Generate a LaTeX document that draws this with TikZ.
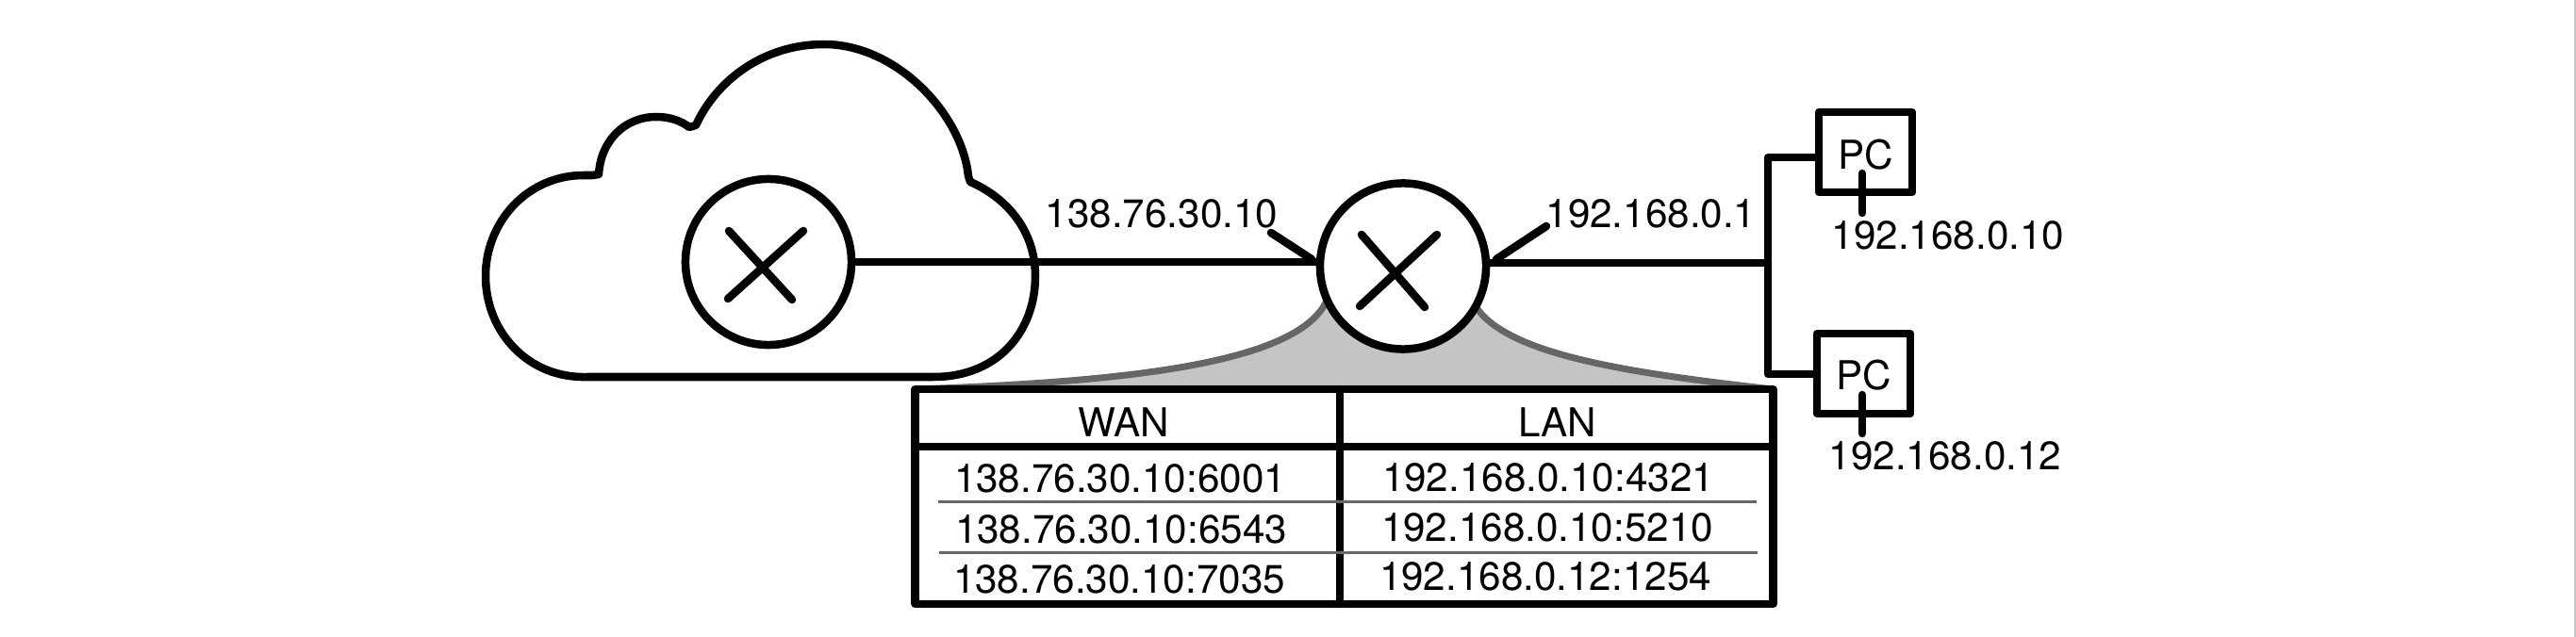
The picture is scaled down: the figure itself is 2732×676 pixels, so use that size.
\documentclass[tikz,border=0pt]{standalone}
\usepackage{fontspec}
\setmainfont{TeX Gyre Heros}
\definecolor{funnelgrey}{HTML}{C4C4C4}
\definecolor{edgegrey}{HTML}{666666}
\definecolor{sidegrey}{HTML}{CCCCCC}
\tikzset{
	heavy/.style={draw=black, line width=0.085cm, line cap=round, line join=round},
	natrouter/.style={circle, heavy, fill=white, minimum size=1.76cm, inner sep=0pt},
	pcbox/.style={rectangle, heavy, minimum width=0.99cm, minimum height=0.85cm, inner sep=0pt},
	natbox/.style={rectangle, heavy, minimum width=9.09cm, minimum height=2.28cm, inner sep=0pt},
	addr/.style={font=\fontsize{12}{14}\selectfont, inner sep=0pt}
}
\begin{document}
\begin{tikzpicture}[x=0.01cm, y=-0.01cm]
				\useasboundingbox (0,0) rectangle (2732,676);
				\draw[sidegrey, line width=0.02cm] (2731,0) -- (2731,676);
				
				% funnel from the router down to its table
				\coordinate (fl) at (1408,317);
				\coordinate (fr) at (1562,320);
				\coordinate (tl) at (971,413);
				\coordinate (tr) at (1880,413);
				\fill[funnelgrey] (fl) .. controls (1380,385) and (1200,405) .. (tl) -- (tr) .. controls (1720,395) and (1590,375) .. (fr) -- cycle;
				\draw[edgegrey, line width=0.07cm] (fl) .. controls (1380,385) and (1200,405) .. (tl);
				\draw[edgegrey, line width=0.07cm] (fr) .. controls (1590,375) and (1720,395) .. (tr);
				
				% table
				\node[natbox] (nat) at (1425.5,527){};
				\coordinate (v1) at (1421,413);
				\coordinate (v2) at (1421,641);
				\coordinate (h1) at (971,474);
				\coordinate (h2) at (1880,474);
				\coordinate (ra1) at (995,532);
				\coordinate (ra2) at (1863,532);
				\coordinate (rb1) at (996,586);
				\coordinate (rb2) at (1864,586);
				\path[heavy] (v1) edge (v2);
				\path[heavy] (h1) edge (h2);
				\draw[edgegrey, line width=0.03cm] (ra1) -- (ra2);
				\draw[edgegrey, line width=0.03cm] (rb1) -- (rb2);
				
				\node[addr] (wan) at (1192,448){WAN};
				\node[addr] (lan) at (1652,448){LAN};
				\node[addr] (w1) at (1188,508){138.76.30.10:6001};
				\node[addr] (w2) at (1189,562){138.76.30.10:6543};
				\node[addr] (w3) at (1187,615){138.76.30.10:7035};
				\node[addr] (l1) at (1642,507){192.168.0.10:4321};
				\node[addr] (l2) at (1641,560){192.168.0.10:5210};
				\node[addr] (l3) at (1639,612){192.168.0.12:1254};
				
				% cloud
				\draw[heavy] (637,400) -- (990,400)
					.. controls (1060,400) and (1098,350) .. (1098,293)
					.. controls (1098,245) and (1068,210) .. (1029,193) -- (1027,187)
					.. controls (1020,120) and (950,47) .. (874,47)
					.. controls (810,47) and (760,85) .. (738,133) -- (731,135)
					.. controls (722,128) and (710,124) .. (696,124)
					.. controls (662,124) and (637,150) .. (635,185) -- (628,186) -- (619,186)
					.. controls (560,186) and (515,235) .. (515,293)
					.. controls (515,352) and (560,402) .. (623,400) -- cycle;
				
				% routers
				\node[natrouter] (gw) at (815,278){};
				\node[natrouter] (rt) at (1488,282.5){};
				
				\coordinate (gwa) at (773,245);
				\coordinate (gwb) at (840,318);
				\coordinate (gwc) at (852,245);
				\coordinate (gwd) at (772,317);
				\path[heavy] (gwa) edge (gwb);
				\path[heavy] (gwc) edge (gwd);
				\coordinate (rta) at (1444,249);
				\coordinate (rtb) at (1511,326);
				\coordinate (rtc) at (1524,249);
				\coordinate (rtd) at (1442,325);
				\path[heavy] (rta) edge (rtb);
				\path[heavy] (rtc) edge (rtd);
				
				% links
				\coordinate (wanin) at (1396,278);
				\coordinate (lanout) at (1875,279);
				\coordinate (bust) at (1875,167);
				\coordinate (busb) at (1875,397);
				\coordinate (pca) at (1925,167);
				\coordinate (pcb) at (1925,397);
				\path[heavy] (gw.east |- wanin) edge (wanin);
				\path[heavy] (rt.east |- lanout) edge (lanout);
				\draw[heavy] (pca) -- (bust) -- (busb) -- (pcb);
				
				\coordinate (wta) at (1348,247);
				\coordinate (wtb) at (1391,275);
				\coordinate (lta) at (1640,240);
				\coordinate (ltb) at (1587,275);
				\path[heavy] (wta) edge (wtb);
				\path[heavy] (lta) edge (ltb);
				\node[addr] (wip) at (1232,227){138.76.30.10};
				\node[addr] (lip) at (1751,227){192.168.0.1};
				
				% hosts
				\node[pcbox] (pc1) at (1978.5,161.5){};
				\node[pcbox] (pc2) at (1976.5,396.5){};
				\node[addr] (pc1t) at (1979,164){PC};
				\node[addr] (pc2t) at (1977,398){PC};
				\coordinate (t1a) at (1975,184);
				\coordinate (t1b) at (1975,226);
				\coordinate (t2a) at (1975,419);
				\coordinate (t2b) at (1975,460);
				\path[heavy] (t1a) edge (t1b);
				\path[heavy] (t2a) edge (t2b);
				\node[addr] (ip1) at (2066,250){192.168.0.10};
				\node[addr] (ip2) at (2063,484){192.168.0.12};
\end{tikzpicture}
\end{document}
